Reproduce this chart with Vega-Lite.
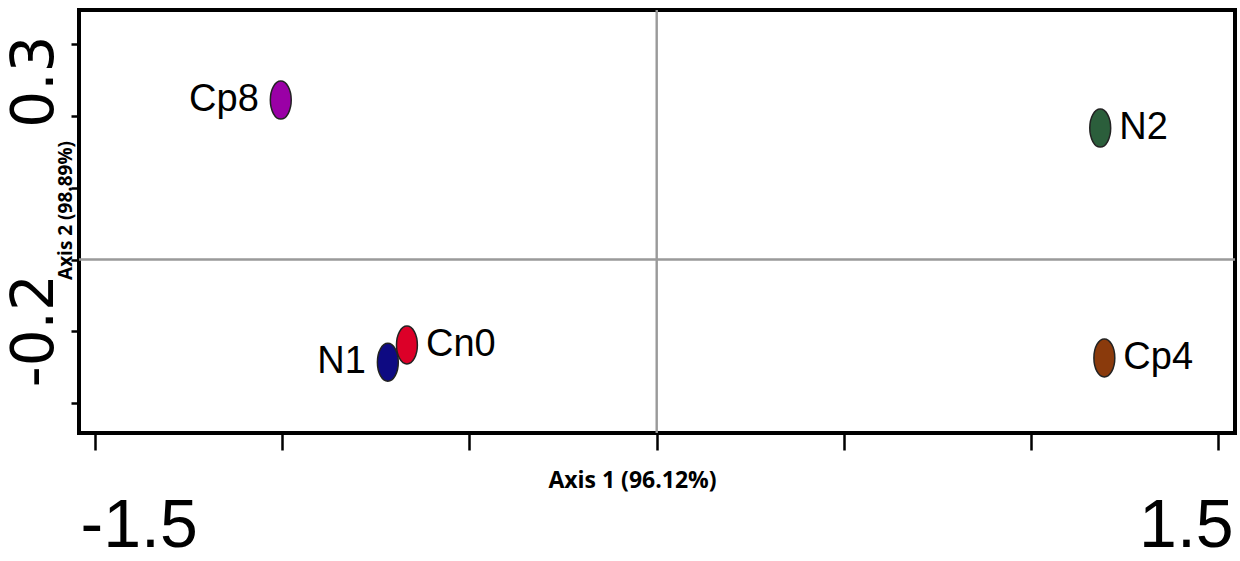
{
  "$schema": "https://vega.github.io/schema/vega-lite/v6.json",
  "usermeta": {"embedOptions": {"actions": false}},
  "autosize": "none",
  "width": 1156,
  "height": 423,
  "padding": {"left": 79, "top": 10, "right": 5, "bottom": 128},
  "background": "white",
  "config": {
    "view": {"stroke": "black", "strokeWidth": 4},
    "axisX": {"titleFontSize": 23},
    "axisY": {"titleFontSize": 19}
  },
  "data": {
    "values": [
      {"sample": "Cp8", "axis1": -1.004, "axis2": 0.222},
      {"sample": "N2", "axis1": 1.185, "axis2": 0.183},
      {"sample": "Cn0", "axis1": -0.667, "axis2": -0.119},
      {"sample": "N1", "axis1": -0.718, "axis2": -0.143},
      {"sample": "Cp4", "axis1": 1.196, "axis2": -0.137}
    ]
  },
  "resolve": {"axis": {"x": "independent", "y": "independent"}},
  "layer": [
    {
      "mark": {
        "type": "point",
        "filled": true,
        "shape": "M0,-1A0.55,1 0 1,1 0,1A0.55,1 0 1,1 0,-1Z",
        "size": 1444,
        "stroke": "#222222",
        "strokeWidth": 1.5,
        "opacity": 1
      },
      "encoding": {
        "x": {
          "field": "axis1",
          "type": "quantitative",
          "scale": {"domain": [-1.543, 1.545], "nice": false, "zero": false},
          "axis": {
            "orient": "bottom",
            "values": [-1.5, -1, -0.5, 0, 0.5, 1, 1.5],
            "domain": false,
            "grid": false,
            "tickColor": "black",
            "tickWidth": 2.5,
            "tickSize": 17,
            "labelExpr": "datum.value == -1.5 ? '-1.5' : ''",
            "labelFont": "Liberation Sans",
            "labelFontSize": 68,
            "labelColor": "black",
            "labelPadding": 96,
            "labelBaseline": "alphabetic",
            "labelAlign": "left",
            "labelOffset": -15,
            "labelOverlap": false,
            "labelBound": false,
            "labelFlush": false,
            "title": "Axis 1 (96.12%)",
            "titleFont": "Open Sans",
            "titleFontWeight": "bold",
            "titleFontSize": 23,
            "titleColor": "black",
            "titleX": 553,
            "titleY": 47,
            "titleAlign": "center",
            "titleBaseline": "middle"
          }
        },
        "y": {
          "field": "axis2",
          "type": "quantitative",
          "scale": {"domain": [-0.2416, 0.3475], "nice": false, "zero": false},
          "axis": {
            "orient": "left",
            "values": [-0.2, -0.1, 0, 0.1, 0.2, 0.3],
            "domain": false,
            "grid": false,
            "tickColor": "black",
            "tickWidth": 2.5,
            "tickSize": 8,
            "labelExpr": "datum.value == 0.3 ? '0.3' : ''",
            "labelFont": "DejaVu Sans",
            "labelFontSize": 58,
            "labelColor": "black",
            "labelAngle": -90,
            "labelAlign": "center",
            "labelBaseline": "alphabetic",
            "labelPadding": 19,
            "labelOffset": 37,
            "labelOverlap": false,
            "labelBound": false,
            "labelFlush": false,
            "title": "Axis 2 (98.89%)",
            "titleFont": "Open Sans",
            "titleFontWeight": "bold",
            "titleFontSize": 19,
            "titleColor": "black",
            "titleAngle": -90,
            "titleX": -14,
            "titleY": 200,
            "titleAlign": "center",
            "titleBaseline": "middle"
          }
        },
        "color": {
          "field": "sample",
          "type": "nominal",
          "scale": {
            "domain": ["Cp8", "N2", "Cn0", "N1", "Cp4"],
            "range": ["#9a00a6", "#2b5e3b", "#dc0028", "#0e0a82", "#8a3a0c"]
          },
          "legend": null
        }
      }
    },
    {
      "transform": [{"filter": "datum.sample == 'Cp8' || datum.sample == 'N1'"}],
      "mark": {
        "type": "text",
        "align": "right",
        "baseline": "middle",
        "dx": -22,
        "font": "Liberation Sans",
        "fontSize": 38,
        "color": "black"
      },
      "encoding": {
        "x": {
          "field": "axis1",
          "type": "quantitative",
          "axis": {
            "orient": "bottom",
            "values": [-1.5, 1.5],
            "domain": false,
            "grid": false,
            "tickColor": "black",
            "tickOpacity": 0,
            "tickSize": 17,
            "labelExpr": "datum.value == 1.5 ? '1.5' : ''",
            "labelFont": "Liberation Sans",
            "labelFontSize": 68,
            "labelColor": "black",
            "labelPadding": 96,
            "labelBaseline": "alphabetic",
            "labelAlign": "right",
            "labelOffset": 15,
            "labelOverlap": false,
            "labelBound": false,
            "labelFlush": false,
            "title": null
          }
        },
        "y": {
          "field": "axis2",
          "type": "quantitative",
          "axis": {
            "orient": "left",
            "values": [-0.2, 0.3],
            "domain": false,
            "grid": false,
            "tickColor": "black",
            "tickOpacity": 0,
            "tickSize": 8,
            "labelExpr": "datum.value == -0.2 ? '-0.2' : ''",
            "labelFont": "DejaVu Sans",
            "labelFontSize": 58,
            "labelColor": "black",
            "labelAngle": -90,
            "labelAlign": "center",
            "labelBaseline": "alphabetic",
            "labelPadding": 19,
            "labelOffset": -73,
            "labelOverlap": false,
            "labelBound": false,
            "labelFlush": false,
            "title": null
          }
        },
        "text": {"field": "sample"}
      }
    },
    {
      "transform": [{"filter": "datum.sample != 'Cp8' && datum.sample != 'N1'"}],
      "mark": {
        "type": "text",
        "align": "left",
        "baseline": "middle",
        "dx": 19,
        "font": "Liberation Sans",
        "fontSize": 38,
        "color": "black"
      },
      "encoding": {
        "x": {"field": "axis1", "type": "quantitative", "axis": null},
        "y": {"field": "axis2", "type": "quantitative", "axis": null},
        "text": {"field": "sample"}
      }
    },
    {
      "mark": {"type": "rule", "color": "#9a9a9a", "strokeWidth": 1.5},
      "encoding": {"x": {"datum": 0, "type": "quantitative", "axis": null}}
    },
    {
      "mark": {"type": "rule", "color": "#9a9a9a", "strokeWidth": 1.5},
      "encoding": {"y": {"datum": 0, "type": "quantitative", "axis": null}}
    }
  ]
}
